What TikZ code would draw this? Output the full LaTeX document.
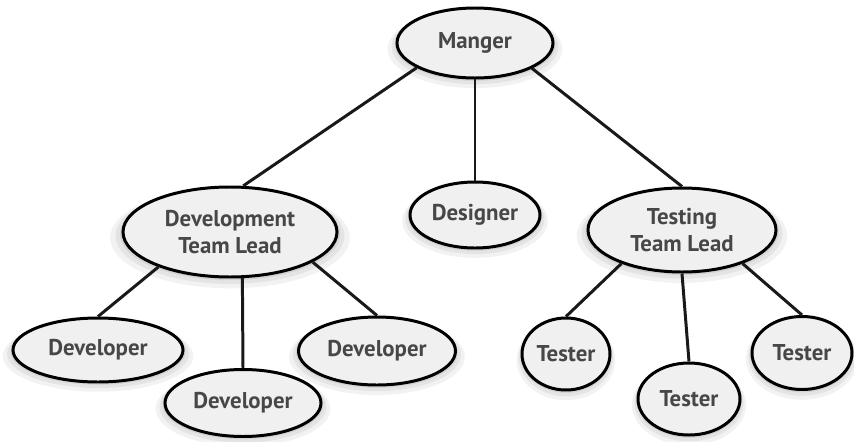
\documentclass[tikz,border=0pt]{standalone}
\usepackage{fontspec}
\setmainfont{PT Sans}
\usepackage{tikz}
\usetikzlibrary{shapes,positioning,shadows}

\begin{document}
\begin{tikzpicture}[
    on grid,
    role/.style={ellipse, draw, line width=1.7pt, fill=black!6, inner sep=0pt, text=black!72,
        align=center, font=\fontsize{13}{15.5}\selectfont\bfseries,
        general shadow={shadow scale=1.12, shadow yshift=-3pt, fill=black, opacity=.05},
        general shadow={shadow scale=1.07, shadow yshift=-2pt, fill=black, opacity=.06},
        general shadow={shadow scale=1.03, shadow yshift=-1pt, fill=black, opacity=.07}},
    link/.style={line width=1.7pt, black!90}
]
\useasboundingbox (0,0) rectangle (17.08,8.82);

% Nodes
\node[role, minimum width=3.12cm, minimum height=1.40cm] (manger) at (9.50,7.96) {Manger};
\node[role, minimum width=2.60cm, minimum height=1.32cm, below=3.44cm of manger] (designer) {Designer};
\node[role, minimum width=4.28cm, minimum height=1.80cm, below left=3.78cm and 4.90cm of manger] (devlead) {Development\\Team Lead};
\node[role, minimum width=3.76cm, minimum height=1.68cm, below right=3.74cm and 4.14cm of manger] (testlead) {Testing\\Team Lead};

\node[role, minimum width=3.40cm, minimum height=1.28cm, below left=2.36cm and 2.64cm of devlead] (devleft) {Developer};
\node[role, minimum width=3.12cm, minimum height=1.34cm, below right=3.42cm and 0.26cm of devlead] (devmid) {Developer};
\node[role, minimum width=3.14cm, minimum height=1.36cm, below right=2.38cm and 2.94cm of devlead] (devright) {Developer};

\node[role, minimum width=1.76cm, minimum height=1.44cm, below left=2.48cm and 2.32cm of testlead] (testleft) {Tester};
\node[role, minimum width=2.04cm, minimum height=1.44cm, below right=3.38cm and 0.14cm of testlead] (testmid) {Tester};
\node[role, minimum width=2.00cm, minimum height=1.46cm, below right=2.46cm and 2.40cm of testlead] (testright) {Tester};

% Edges
\draw[link] (manger.203) -- (devlead.74);
\draw[link] (manger.south) -- (designer.north);
\draw[link] (manger.336) -- (testlead.north);

\draw[link] (devlead.206) -- (devleft.north);
\draw[link] (devlead.285) -- (devmid.north);
\draw[link] (devlead.340) -- (devright.north);

\draw[link] (testlead.209) -- (testleft.north);
\draw[link] (testlead.south) -- (testmid.north);
\draw[link] (testlead.331) -- (testright.north);

\end{tikzpicture}
\end{document}
